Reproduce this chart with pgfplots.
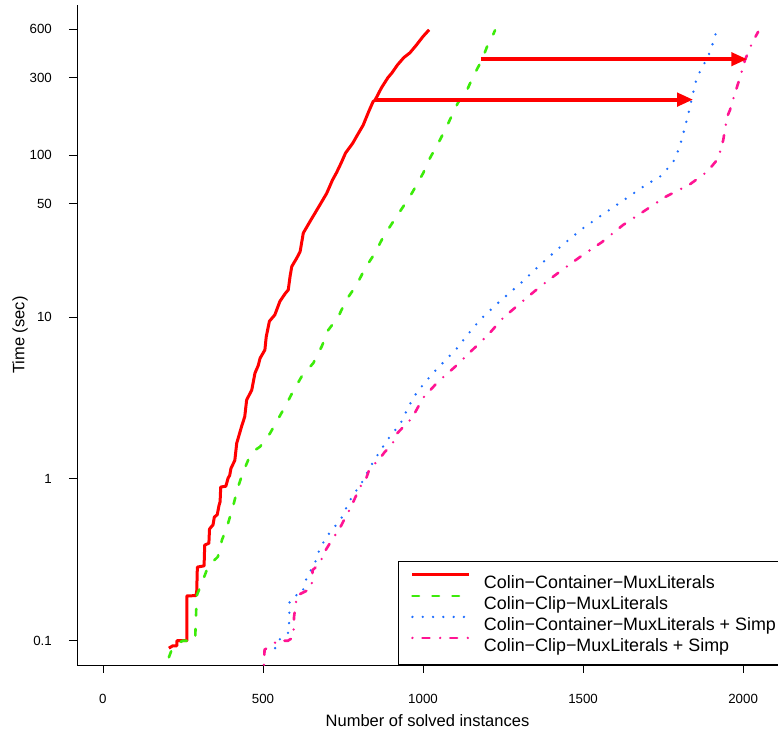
\documentclass[border=0pt]{standalone}
\usepackage{fontspec}
\setmainfont{Liberation Sans}
\usepackage{pgfplots}
\pgfplotsset{compat=1.18}
\usetikzlibrary{arrows.meta}
\definecolor{cred}{RGB}{255,0,0}
\definecolor{cgreen}{RGB}{60,235,10}
\definecolor{cblue}{RGB}{30,110,255}
\definecolor{cpink}{RGB}{255,20,147}

\begin{document}
\begin{tikzpicture}
\begin{axis}[
  name=ax,
  scale only axis, width=701pt, height=660pt,
  xmin=-81, xmax=2109,
  ymode=log, ymin=0.0708, ymax=845,
  axis x line*=bottom, axis y line*=left,
  axis line style={-, line width=0.8pt},
  xtick={0,500,1000,1500,2000}, xticklabels={0,500,1000,1500,2000},
  ytick={0.1,1,10,50,100,300,600}, yticklabels={0.1,1,10,50,100,300,600},
  yminorticks=false,
  tick align=outside, major tick length=8pt,
  tick style={line width=0.8pt, black},
  tick label style={font=\fontsize{13.3}{15}\selectfont, inner sep=0pt},
  xticklabel style={anchor=north, yshift=-21pt},
  yticklabel style={anchor=east, xshift=-17pt},
  xlabel={Number of solved instances},
  ylabel={Time (sec)},
  label style={font=\fontsize{16.5}{19}\selectfont},
  xlabel style={at={(axis description cs:0.5,-0.0939)}, anchor=base},
  ylabel style={at={(axis description cs:-0.0813,0.5)}, anchor=center},
  legend cell align=left,
  legend image code/.code={\draw[#1] (0pt,6.4pt) -- (57pt,6.4pt);},
  legend style={at={(axis description cs:0.458,0)}, anchor=south west,
    draw=black, line width=0.8pt, fill=white,
    font=\fontsize{17.9}{21}\selectfont,
    inner xsep=12.5pt, inner ysep=0pt, column sep=13pt, row sep=-19.6pt,
    nodes={inner sep=0pt, text height=27pt, text depth=13.6pt}},
]
% Colin-Container-MuxLiterals
\addplot[cred, line width=3pt, line join=round] coordinates {
(206,0.090)(218,0.093)(231,0.093)(231,0.100)(262,0.100)(262,0.189)(290,0.190)
(293,0.200)(295,0.285)(316,0.290)(318,0.390)(331,0.400)(333,0.490)(344,0.520)
(348,0.580)(357,0.600)(363,0.690)(366,0.720)(368,0.890)(384,0.900)(391,1.01)
(396,1.05)(400,1.16)(412,1.30)(418,1.66)(433,2.10)(443,2.42)(449,3.07)
(465,3.54)(475,4.50)(485,5.0)(491,5.56)(506,6.26)(510,7.5)(520,9.4)(537,10.3)
(553,12.5)(570,14.0)(579,14.7)(585,18.0)(590,20.5)(605,23)(616,25.3)(626,33)
(647,38.9)(678,49.3)(699,58)(717,70)(730,78)(745,90)(758,103)(780,118)
(795,133)(813,153)(830,185)(844,214)(850,218)(870,260)(890,300)(903,322)
(920,360)(940,400)(959,428)(980,480)(1000,540)(1019,594)
};
\addlegendentry{Colin−Container−MuxLiterals}
% Colin-Clip-MuxLiterals
\addplot[cgreen, line width=2.6pt, line cap=round, dash pattern=on 6.5pt off 13.5pt] coordinates {
(206,0.079)(215,0.088)(241,0.098)(250,0.100)(288,0.100)(293,0.190)(310,0.23)
(328,0.285)(345,0.31)(359,0.33)(372,0.42)(387,0.50)(406,0.67)(422,0.89)
(438,1.10)(454,1.31)(470,1.48)(491,1.58)(522,1.91)(545,2.30)(569,2.79)
(595,3.5)(621,4.29)(657,5.18)(684,6.6)(704,8.3)(735,10)(761,12.8)(793,15.8)
(819,20)(850,24.8)(875,31)(906,38.6)(938,48)(966,58.5)(1000,77)(1022,96)
(1053,124)(1078,156)(1109,210)(1138,253)(1156,304)(1184,387)(1200,467)
(1216,537)(1225,590)
};
\addlegendentry{Colin−Clip−MuxLiterals}
% Colin-Container-MuxLiterals + Simp
\addplot[cblue, line width=2.6pt, line cap=round, dash pattern=on 0pt off 10.3pt] coordinates {
(538,0.090)(547,0.100)(581,0.113)(583,0.173)(600,0.190)(622,0.195)(637,0.248)
(662,0.300)(678,0.374)(703,0.450)(719,0.490)(747,0.580)(769,0.720)(781,0.790)
(809,0.950)(844,1.27)(872,1.55)(900,1.87)(928,2.16)(955,2.8)(981,3.43)
(1031,4.5)(1070,5.4)(1106,6.4)(1140,7.8)(1178,9.6)(1238,12.4)(1303,16)
(1366,21)(1428,27)(1497,35)(1569,44)(1641,55)(1694,65)(1744,74.5)(1781,90)
(1800,110)(1812,133)(1828,177)(1841,229)(1856,305)(1872,346)(1897,434)(1916,577)
};
\addlegendentry{Colin−Container−MuxLiterals + Simp}
% Colin-Clip-MuxLiterals + Simp
\addplot[cpink, line width=2.6pt, line cap=round, dash pattern=on 0pt off 10pt on 7pt off 10.7pt] coordinates {
(503,0.071)(505,0.088)(512,0.090)(547,0.100)(578,0.100)(595,0.105)(597,0.140)
(600,0.155)(606,0.190)(650,0.210)(653,0.230)(655,0.273)(678,0.300)(691,0.350)
(709,0.400)(741,0.500)(756,0.570)(775,0.670)(803,0.890)(822,1.00)(834,1.17)
(859,1.29)(881,1.47)(903,1.62)(918,1.90)(966,2.38)(1000,3.16)(1047,3.98)
(1100,4.92)(1147,6.06)(1203,7.74)(1250,9.86)(1309,12.4)(1366,15.4)(1434,19.5)
(1491,23.5)(1559,29)(1625,37)(1688,44.7)(1756,55)(1834,66)(1888,79)(1922,95)
(1938,124)(1950,172)(1959,190)(1975,242)(1991,305)(2006,387)(2028,493)(2047,577)
};
\addlegendentry{Colin−Clip−MuxLiterals + Simp}
% arrows
\addplot[cred, line width=4pt, -{Triangle[length=16pt,width=13pt]}, forget plot]
  coordinates {(850,220) (1844,220)};
\addplot[cred, line width=4pt, -{Triangle[length=16pt,width=13pt]}, forget plot]
  coordinates {(1181,391) (2013,391)};
\end{axis}
\pgfresetboundingbox
\path[use as bounding box] ([xshift=-77pt,yshift=-67pt]ax.south west) rectangle ++(778pt,732pt);
\end{tikzpicture}
\end{document}
